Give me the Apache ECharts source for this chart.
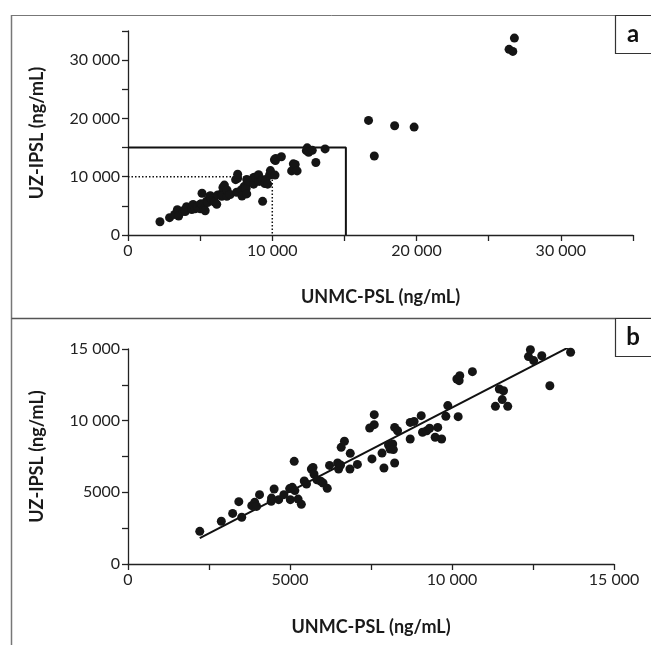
<!DOCTYPE html>
<html><head><meta charset="utf-8">
<script src="https://cdn.jsdelivr.net/npm/echarts@6/dist/echarts.min.js"></script>
<style>html,body{margin:0;padding:0;background:#fff}#c{width:651px;height:645px}</style>
</head><body><div id="c"></div>
<script>
// Paired measurements (UNMC-PSL x, UZ-IPSL y), ng/mL
const unmcPsl = [2215,2880,3230,3420,3510,3820,3910,3970,4060,4420,4430,4510,4650,4810,4990,5010,5070,5150,5130,5250,5350,5440,5510,5660,5710,5740,5830,5950,6020,6150,6220,6470,6500,6560,6580,6680,6850,6860,7080,7460,7530,7600,7600,7840,7900,8040,8090,8170,8190,8230,8230,8320,8710,8710,8830,9050,9090,9220,9310,9480,9560,9680,9810,9870,10150,10220,10240,10190,10630,11340,11460,11550,11590,11720,12360,12420,12520,12770,13020,13660];
const uzIpsl  = [2280,2980,3530,4350,3260,4070,4300,4020,4840,4370,4600,5230,4490,4840,5260,4490,5350,5120,7160,4530,4160,5790,5580,6630,6740,6280,5880,5770,5650,5280,6880,7050,6630,6910,8140,8560,6630,7720,6950,9490,7330,9720,10420,7740,6700,8300,8020,8370,7980,9530,7050,9300,8720,9880,9950,10350,9190,9300,9470,8840,9530,8720,10300,11050,12910,12790,13140,10280,13420,11000,12210,11470,12090,11000,14470,14950,14190,14530,12440,14770];
// Additional samples shown only in panel a (outside the 15 000 ng/mL box, plus one low outlier)
const extraUnmc = [9330,16670,17070,18480,19830,26410,26670,26780];
const extraUz   = [5780,19660,13550,18740,18510,31850,31500,33780];
// Regression line endpoints (panel b)
const fitX = [2215,13660];
const fitY = [1810,15190];
// Reference lines (panel a)
const boxX = [0,15100,15100];
const boxY = [15000,15000,0];
const dotX = [0,10000,10000];
const dotY = [10000,10000,0];

const pair = (xs, ys) => xs.map((x,i)=>[x, ys[i]]);
const fmt = v => v >= 10000 ? String(v).replace(/(\d)(?=(\d{3})+$)/g,'$1 ') : String(v);
const FONT = 'Lato';
const axisCommon = (labelStep) => ({
  type:'value',
  axisLine:{show:true,lineStyle:{color:'#222',width:1.3}},
  axisTick:{show:true,inside:false,length:6,lineStyle:{color:'#222',width:1.3}},
  splitLine:{show:false},
  axisLabel:{color:'#222',fontFamily:FONT,fontSize:16,
    formatter:v => (v % labelStep === 0 ? fmt(v) : '')},
  nameLocation:'middle',
  nameTextStyle:{color:'#1a1a1a',fontFamily:FONT,fontWeight:'bold',fontSize:18}
});

const aPts = pair(unmcPsl, uzIpsl).concat(pair(extraUnmc, extraUz));
const bPts = pair(unmcPsl, uzIpsl);

const chart = echarts.init(document.getElementById('c'), null, {renderer:'canvas'});
chart.setOption({
  animation:false,
  backgroundColor:'#fff',
  grid:[
    {left:128, top:31, width:505, height:204},
    {left:128, top:349, width:486, height:215}
  ],
  xAxis:[
    Object.assign(axisCommon(10000), {gridIndex:0, min:0, max:35000, interval:5000, name:'UNMC-PSL (ng/mL)', nameGap:53}),
    Object.assign(axisCommon(5000), {gridIndex:1, min:0, max:15000, interval:2500, name:'UNMC-PSL (ng/mL)', nameGap:54})
  ],
  yAxis:[
    Object.assign(axisCommon(10000), {gridIndex:0, min:0, max:35000, interval:5000, name:'UZ-IPSL (ng/mL)', nameGap:82}),
    Object.assign(axisCommon(5000), {gridIndex:1, min:0, max:15000, interval:2500, name:'UZ-IPSL (ng/mL)', nameGap:82})
  ],
  series:[
    {type:'line', xAxisIndex:0, yAxisIndex:0, data:pair(boxX, boxY), symbol:'none',
      lineStyle:{color:'#111', width:2}, z:1},
    {type:'line', xAxisIndex:0, yAxisIndex:0, data:pair(dotX, dotY), symbol:'none',
      lineStyle:{color:'#111', width:1.5, type:[1.5,2]}, z:1},
    {type:'scatter', xAxisIndex:0, yAxisIndex:0, data:aPts, symbolSize:9,
      itemStyle:{color:'#151515', opacity:1}, z:3},
    {type:'scatter', xAxisIndex:1, yAxisIndex:1, data:bPts, symbolSize:9,
      itemStyle:{color:'#151515', opacity:1}, z:3},
    {type:'line', xAxisIndex:1, yAxisIndex:1, data:pair(fitX, fitY), symbol:'none',
      lineStyle:{color:'#111', width:2}, z:2}
  ],
  graphic:[
    {type:'line', shape:{x1:11.5,y1:15.5,x2:651,y2:15.5}, style:{stroke:'#777',lineWidth:1}},
    {type:'line', shape:{x1:11.5,y1:15,x2:11.5,y2:645}, style:{stroke:'#777',lineWidth:1.5}},
    {type:'line', shape:{x1:11.5,y1:318.5,x2:651,y2:318.5}, style:{stroke:'#555',lineWidth:1.5}},
    {type:'rect', shape:{x:615.5,y:15.5,width:40,height:38}, style:{fill:'#fff',stroke:'#333',lineWidth:1.2}},
    {type:'text', style:{x:633,y:34,text:'a',fill:'#111',font:'bold 24px '+FONT,align:'center',verticalAlign:'middle'}},
    {type:'rect', shape:{x:615.5,y:318.5,width:40,height:38}, style:{fill:'#fff',stroke:'#333',lineWidth:1.2}},
    {type:'text', style:{x:633,y:337,text:'b',fill:'#111',font:'bold 24px '+FONT,align:'center',verticalAlign:'middle'}}
  ]
});
</script></body></html>
